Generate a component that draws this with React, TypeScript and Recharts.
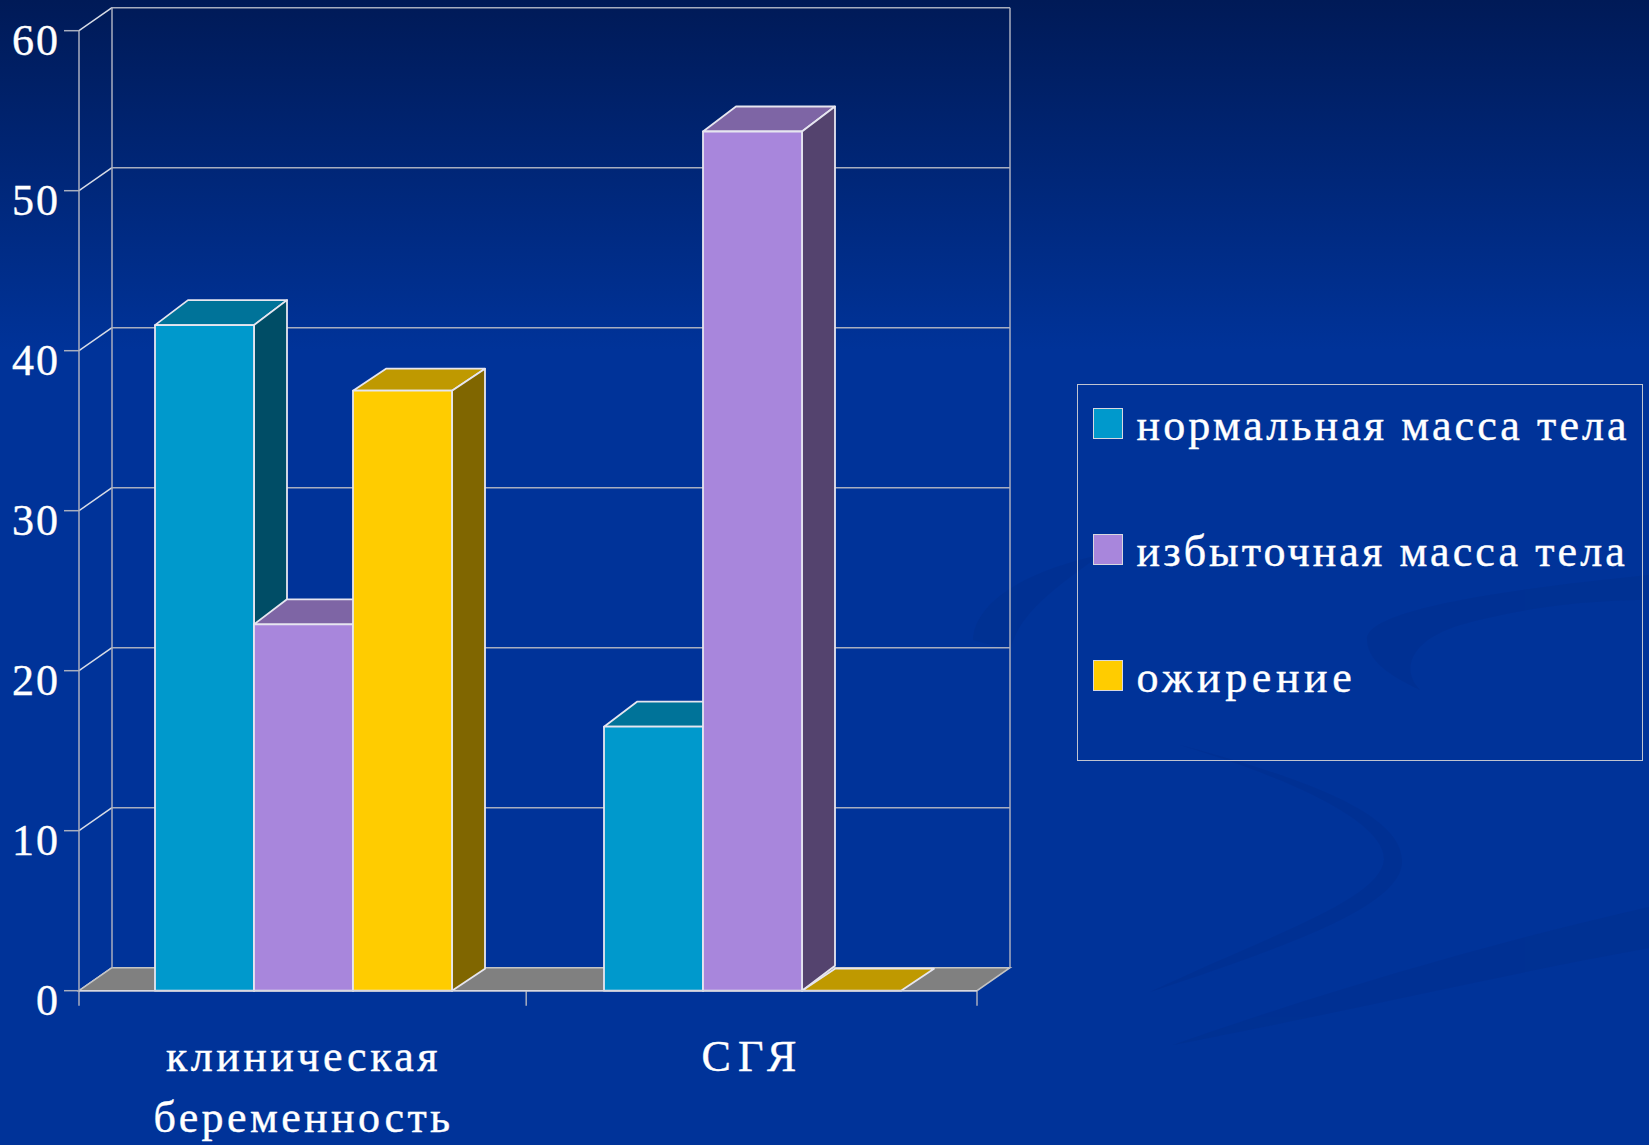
import React from 'react';
import { Bar, BarChart, CartesianGrid, Legend, ReferenceArea, XAxis, YAxis } from 'recharts';

const categories = [['клиническая', 'беременность'], ['СГЯ']];
const normalMass = [41.6, 16.5];
const excessMass = [22.9, 53.7];
const obesity = [37.5, 0];
const valueTicks = [0, 10, 20, 30, 40, 50, 60];

const seriesNames = ['нормальная масса тела', 'избыточная масса тела', 'ожирение'];

const data = categories.map((lines, i) => ({
  name: lines.join(' '),
  normal: normalMass[i],
  excess: excessMass[i],
  obesity: obesity[i],
}));

// depth of the fake 3D box
const DX = 33;
const DY = -23;
const GRID = '#a8aebf';
const SERIF = '"Liberation Serif", serif';
const LEGEND_SPACING = [3.1, 3.1, 4.6];
const CATEGORY_SPACING = [[3.5, 3.4], [7]];

const Walls = ({ x, y, width, height }: any) => {
  const floorY = y + height;
  return (
    <g>
      <polygon
        points={`${x},${floorY} ${x + width},${floorY} ${x + width + DX},${floorY + DY} ${x + DX},${floorY + DY}`}
        fill="#808080"
        stroke="#c4c4c4"
        strokeWidth={1.5}
      />
      <line x1={x + DX} x2={x + DX} y1={y + DY} y2={floorY + DY} stroke={GRID} strokeWidth={1.5} />
      <line x1={x + width + DX} x2={x + width + DX} y1={y + DY} y2={floorY + DY} stroke={GRID} strokeWidth={1.5} />
      {[0, 0.498, 1].map(f => (
        <line key={f} x1={x + width * f} x2={x + width * f} y1={floorY} y2={floorY + 15} stroke={GRID} strokeWidth={1.5} />
      ))}
    </g>
  );
};

const gridLine = ({ x1, x2, y1, key }: any) => (
  <g key={key}>
    <line x1={x1} y1={y1} x2={x1 + DX} y2={y1 + DY} stroke="#d8dce6" strokeWidth={1.5} />
    <line x1={x1 + DX} y1={y1 + DY} x2={x2 + DX} y2={y1 + DY} stroke={GRID} strokeWidth={1.5} />
  </g>
);

const Box3D = ({ x, y, width, height, fill, top, side, depth }: any) => (
  <g stroke="#e6e6f0" strokeWidth={1.8} strokeLinejoin="round">
    <polygon points={`${x},${y} ${x + width},${y} ${x + width + DX},${y - depth} ${x + DX},${y - depth}`} fill={top} />
    {height > 0 && (
      <polygon
        points={`${x + width},${y} ${x + width + DX},${y - depth} ${x + width + DX},${y + height - depth} ${x + width},${y + height}`}
        fill={side}
      />
    )}
    {height > 0 && <rect x={x} y={y} width={width} height={height} fill={fill} />}
  </g>
);

const ValueTick = ({ x, y, payload }: any) => (
  <text
    x={x - 2}
    y={y + 24}
    textAnchor="end"
    fontFamily={SERIF}
    fontSize={44}
    letterSpacing={2}
    fill="#ffffff"
    stroke="#ffffff"
    strokeWidth={0.4}
  >
    {payload.value}
  </text>
);

const CategoryTick = ({ x, y, index }: any) => (
  <g>
    {categories[index].map((line, i) => (
      <text
        key={line}
        x={x}
        y={y + 72 + i * 61}
        textAnchor="middle"
        fontFamily={SERIF}
        fontSize={44}
        letterSpacing={CATEGORY_SPACING[index][i]}
        fill="#ffffff"
        stroke="#ffffff"
        strokeWidth={0.4}
      >
        {line}
      </text>
    ))}
  </g>
);

const LegendBox = ({ payload }: any) => (
  <div
    style={{
      width: 566,
      height: 377,
      boxSizing: 'border-box',
      border: '1.5px solid #c0c4d0',
      position: 'relative',
      fontFamily: SERIF,
      fontSize: 44,
      color: '#fff',
      WebkitTextStroke: '0.4px #fff',
    }}
  >
    {payload.map((item: any, i: number) => (
      <React.Fragment key={item.value}>
        <span
          style={{
            position: 'absolute',
            left: 15,
            top: 23 + i * 126,
            width: 30,
            height: 31,
            boxSizing: 'border-box',
            background: item.color,
            border: '1.5px solid #d8d8e0',
          }}
        />
        <span
          style={{
            position: 'absolute',
            left: 59,
            top: 21 + i * 126,
            lineHeight: '40px',
            whiteSpace: 'nowrap',
            letterSpacing: LEGEND_SPACING[i],
          }}
        >
          {item.value}
        </span>
      </React.Fragment>
    ))}
  </div>
);

// faint swooshes of the slide template, sitting behind the chart
const SlideBackdrop = () => (
  <svg width={1649} height={1145} style={{ position: 'absolute', left: 0, top: 0 }}>
    <g fill="#002f8e" opacity={0.5}>
      <path d="M1180 745 C1290 775 1400 810 1402 860 C1404 905 1290 945 1150 992 C1270 935 1380 900 1384 860 C1386 820 1280 775 1180 745 Z" />
      <path d="M1649 907 C1480 945 1300 1000 1173 1045 C1330 1015 1500 975 1649 948 Z" />
      <path d="M1649 575 C1500 590 1365 610 1367 640 C1368 665 1400 680 1420 690 C1400 670 1410 640 1460 625 C1530 605 1600 600 1649 600 Z" />
      <path d="M973 640 C975 600 1030 570 1100 555 C1060 585 1020 610 1010 650 Z" />
    </g>
  </svg>
);

export default function App() {
  return (
    <div
      style={{
        position: 'absolute',
        left: 0,
        top: 0,
        width: 1649,
        height: 1145,
        overflow: 'hidden',
        background: 'linear-gradient(180deg, #001a57 0px, #003399 350px, #003399 1145px)',
      }}
    >
      <SlideBackdrop />
      <BarChart
        width={1649}
        height={1145}
        data={data}
        barGap={0}
        barCategoryGap={76}
        margin={{ top: 30.7, right: 672, bottom: 94.3, left: 0 }}
      >
        <ReferenceArea y1={0} y2={60} shape={<Walls />} fill="none" stroke="none" />
        <CartesianGrid vertical={false} horizontal={gridLine} />
        <XAxis
          dataKey="name"
          height={60}
          tick={<CategoryTick />}
          tickLine={false}
          axisLine={{ stroke: '#d8d8e0', strokeWidth: 1.5 }}
          interval={0}
        />
        <YAxis
          type="number"
          domain={[0, 60]}
          ticks={valueTicks}
          width={79}
          tick={<ValueTick />}
          tickSize={15}
          tickLine={{ stroke: GRID, strokeWidth: 1.5 }}
          axisLine={{ stroke: GRID, strokeWidth: 1.5 }}
        />
        <Legend
          content={<LegendBox />}
          layout="horizontal"
          verticalAlign="middle"
          itemSorter={null}
          wrapperStyle={{ position: 'absolute', left: 1076.5, top: 383.5, width: 566, height: 377 }}
        />
        <Bar
          dataKey="normal"
          name={seriesNames[0]}
          fill="#0099cc"
          isAnimationActive={false}
          shape={(p: any) => <Box3D {...p} fill="#0099cc" top="#007399" side="#004d66" depth={25} />}
        />
        <Bar
          dataKey="excess"
          name={seriesNames[1]}
          fill="#a886dc"
          isAnimationActive={false}
          shape={(p: any) => <Box3D {...p} fill="#a886dc" top="#7e65a5" side="#54436e" depth={25} />}
        />
        <Bar
          dataKey="obesity"
          name={seriesNames[2]}
          fill="#ffcc00"
          isAnimationActive={false}
          shape={(p: any) => <Box3D {...p} fill="#ffcc00" top="#bf9900" side="#806600" depth={22} />}
        />
      </BarChart>
    </div>
  );
}
